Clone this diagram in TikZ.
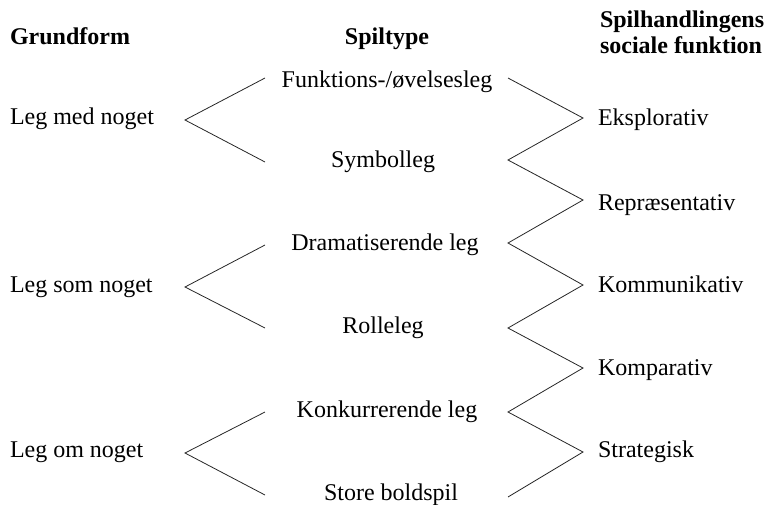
\documentclass[tikz,border=0pt]{standalone}
\usepackage{fontspec}
\setmainfont{Liberation Serif}
\begin{document}
\begin{tikzpicture}[x=1pt,y=-1pt,
  lbl/.style={inner sep=0pt,outer sep=0pt,font=\fontsize{24}{27}\selectfont},
  hd/.style={lbl,font=\fontsize{24}{27}\selectfont\bfseries},
  ln/.style={draw=black!85,line width=0.8pt,line join=miter}]
\useasboundingbox (0,0) rectangle (765,504);
% headings
\node[hd,anchor=base west] (hg) at (10,44) {Grundform};
\node[hd,anchor=base] (hs) at (387,44) {Spiltype};
\node[hd,anchor=base west] (hf1) at (600,27) {Spilhandlingens};
\node[hd,anchor=base west] (hf2) at (600,53) {sociale funktion};
% left column
\node[lbl,anchor=base west] (g1) at (10,124) {Leg med noget};
\node[lbl,anchor=base west] (g2) at (10,292) {Leg som noget};
\node[lbl,anchor=base west] (g3) at (10,457) {Leg om noget};
% middle column
\node[lbl,anchor=base] (t1) at (387,87) {Funktions-/øvelsesleg};
\node[lbl,anchor=base] (t2) at (383,167) {Symbolleg};
\node[lbl,anchor=base] (t3) at (385,250) {Dramatiserende leg};
\node[lbl,anchor=base] (t4) at (383,333) {Rolleleg};
\node[lbl,anchor=base] (t5) at (387,417) {Konkurrerende leg};
\node[lbl,anchor=base] (t6) at (391,500) {Store boldspil};
% right column
\node[lbl,anchor=base west] (f1) at (598,125) {Eksplorativ};
\node[lbl,anchor=base west] (f2) at (598,210) {Repræsentativ};
\node[lbl,anchor=base west] (f3) at (598,292) {Kommunikativ};
\node[lbl,anchor=base west] (f4) at (598,375) {Komparativ};
\node[lbl,anchor=base west] (f5) at (598,457) {Strategisk};
% left chevrons
\coordinate (a1) at (265,78);  \coordinate (v1) at (185,120); \coordinate (b1) at (265,162);
\coordinate (a2) at (265,245); \coordinate (v2) at (185,287); \coordinate (b2) at (265,328);
\coordinate (a3) at (265,412); \coordinate (v3) at (185,453); \coordinate (b3) at (265,495);
\draw[ln] (a1) -- (v1) -- (b1);
\draw[ln] (a2) -- (v2) -- (b2);
\draw[ln] (a3) -- (v3) -- (b3);
% right zigzag
\coordinate (z0) at (508,78);
\coordinate (p1) at (583,118);
\coordinate (z1) at (508,160);
\coordinate (p2) at (583,200);
\coordinate (z2) at (508,243);
\coordinate (p3) at (583,285);
\coordinate (z3) at (508,328);
\coordinate (p4) at (583,368);
\coordinate (z4) at (508,412);
\coordinate (p5) at (583,452);
\coordinate (z5) at (508,497);
\draw[ln] (z0) -- (p1) -- (z1) -- (p2) -- (z2) -- (p3) -- (z3) -- (p4) -- (z4) -- (p5) -- (z5);
\end{tikzpicture}
\end{document}
